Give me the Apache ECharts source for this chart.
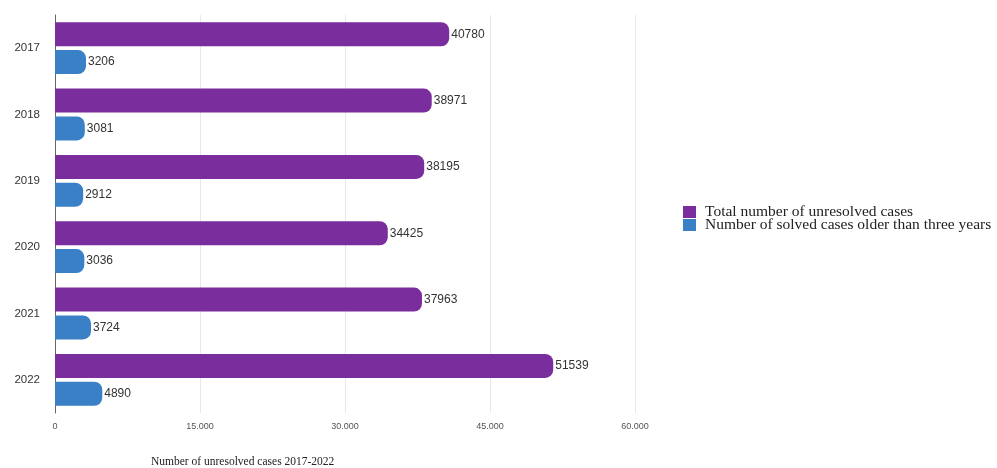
<!DOCTYPE html>
<html><head><meta charset="utf-8">
<script src="https://cdn.jsdelivr.net/npm/echarts@6/dist/echarts.min.js"></script>
<style>html,body{margin:0;padding:0;background:#fff}#c{width:997px;height:468px}</style>
</head><body><div id="c"></div>
<script>
const years = ['2017','2018','2019','2020','2021','2022'];
const totalUnresolved = [40780, 38971, 38195, 34425, 37963, 51539];
const solvedOlder = [3206, 3081, 2912, 3036, 3724, 4890];
const xTicks = [0, 15000, 30000, 45000, 60000];
const seriesNames = ['Total number of unresolved cases', 'Number of solved cases older than three years'];

const chart = echarts.init(document.getElementById('c'));
const lbl = {show:true, position:'right', distance:2, color:'#333', fontSize:12, fontFamily:'Liberation Sans'};
chart.setOption({
  animation:false,
  title:{text:'Number of unresolved cases 2017-2022', left:146, top:451,
    textStyle:{fontFamily:'Liberation Serif', fontWeight:'normal', fontSize:11.5, color:'#222'}},
  legend:{orient:'vertical', left:683, top:204, padding:0, itemGap:-3, itemWidth:13, itemHeight:12,
    icon:'rect', data:seriesNames,
    textStyle:{fontFamily:'Liberation Serif', fontSize:15.5, color:'#222', padding:[0,0,0,4]}},
  grid:{left:55, right:362, top:15, bottom:55, containLabel:false},
  xAxis:{type:'value', min:0, max:60000, interval:15000,
    axisLine:{show:false}, axisTick:{show:false},
    splitLine:{lineStyle:{color:'#e8e8e8'}},
    axisLabel:{color:'#555', fontSize:9, fontFamily:'Liberation Sans', margin:9,
      formatter:v => xTicks.includes(v) ? (v===0 ? '0' : (v/1000).toFixed(3)) : ''}},
  yAxis:{type:'category', data:years, inverse:true,
    axisLine:{show:true, lineStyle:{color:'#666'}}, axisTick:{show:false},
    axisLabel:{color:'#333', fontSize:11.5, fontFamily:'Liberation Sans', margin:15}},
  series:[
    {name:seriesNames[0], type:'bar', data:totalUnresolved, barWidth:24, barGap:'16%',
      itemStyle:{color:'#7a2d9c', borderRadius:[0,8,8,0]}, label:lbl},
    {name:seriesNames[1], type:'bar', data:solvedOlder, barWidth:24,
      itemStyle:{color:'#3a80c6', borderRadius:[0,8,8,0]}, label:lbl}
  ]
});
</script></body></html>
